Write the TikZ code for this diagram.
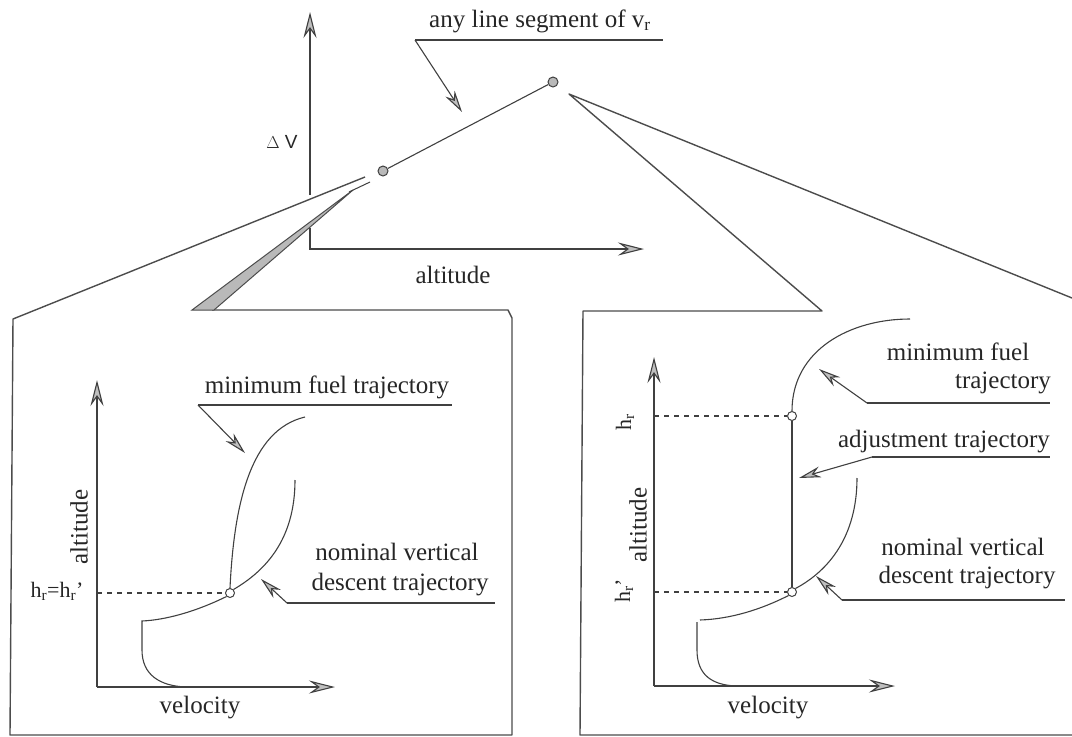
\documentclass[tikz,border=0pt]{standalone}
\usepackage{fontspec}
\setmainfont{Liberation Serif}
\newfontfamily\sansf{Liberation Sans}
\usetikzlibrary{arrows.meta}
\begin{document}
\begin{tikzpicture}[x=1pt,y=-1pt,
  line width=1.1pt, color=black!75,
  lbl/.style={font=\fontsize{25}{28}\selectfont, inner sep=0pt, anchor=base, text=black!85},
  sublbl/.style={font=\fontsize{22}{24}\selectfont, inner sep=0pt, text=black!85},
  axisarr/.style={-{Stealth[length=26pt,width=13pt,inset=9pt,fill=gray!50]}},
  callarr/.style={-{Stealth[length=22pt,width=11pt,inset=7pt,fill=gray!50]}},
  panelln/.style={line width=1.4pt, draw=black!70, line join=round},
  dashln/.style={dash pattern=on 5pt off 5pt, line width=1.3pt},
  bigdot/.style={circle, draw=black!75, fill=gray!55, minimum size=10pt, inner sep=0pt, line width=1pt},
  smalldot/.style={circle, draw=black!75, fill=white, minimum size=9pt, inner sep=0pt, line width=1pt}
]
\useasboundingbox (0,0) rectangle (1072,737);

% ---------- top chart ----------
\coordinate (tO) at (310,249);
\coordinate (tVtop) at (310,12);
\coordinate (tVgap1) at (310,195);
\coordinate (tVgap2) at (310,228);
\coordinate (tHend) at (644,249);
\draw[axisarr] (tVgap1) -- (tVtop);
\draw[axisarr] (tVgap2) -- (tO) -- (tHend);
\node[font=\sansf\fontsize{19}{21}\selectfont, inner sep=0pt, text=black!85] (dv) at (282,142) {$\Delta$ V};
\node[lbl] (talt) at (453,283) {altitude};

\node[bigdot] (d1) at (383,171) {};
\node[bigdot] (d2) at (553,82) {};
\draw (d1) -- (d2);

\node[lbl] (seg) at (540,27) {any line segment of v\textsubscript{r}};
\coordinate (segL) at (415,40);
\coordinate (segR) at (663,40);
\coordinate (segTip) at (462,112);
\draw (segL) -- (segR);
\draw[callarr] (segL) -- (segTip);

% ---------- left panel ----------
\coordinate (lp1) at (13,319);
\coordinate (lpApex) at (365,177);
\draw[panelln] (lpApex) -- (lp1) -- (10,735) -- (512,735) -- (512,318) -- (508,310) -- (212,310);
\filldraw[fill=gray!55, draw=black!70, line width=1pt] (192,310) -- (214,310) -- (353,190) -- cycle;
\draw[line width=1pt] (349,192) -- (370,182);

\coordinate (lO) at (97,687);
\draw[axisarr] (lO) -- (97,380);
\draw[axisarr] (lO) -- (335,687);
\node[lbl, anchor=center, rotate=90] (lalt) at (79,527) {altitude};
\node[lbl] (lvel) at (200,713) {velocity};
\node[sublbl, anchor=base] (lhr) at (57,597) {h\textsubscript{r}=h\textsubscript{r}'};

\node[smalldot] (lP) at (230,593) {};
\draw[dashln] (97,593) -- (lP);
% nominal vertical descent trajectory
\draw (295,480) .. controls (295,540) and (265,571) .. (lP.north east);
\draw (lP.south west) .. controls (195,612) and (165,620) .. (142,621) -- (142,650) .. controls (142,675) and (160,686) .. (186,687);
% minimum fuel trajectory
\draw (lP.north) .. controls (234,505) and (250,430) .. (305,417);

\node[lbl] (lmf) at (327,393) {minimum fuel trajectory};
\coordinate (lmfL) at (198,405);
\coordinate (lmfR) at (452,405);
\coordinate (lmfTip) at (245,453);
\draw (lmfL) -- (lmfR);
\draw[callarr] (lmfL) -- (lmfTip);

\node[lbl] (lnv1) at (397,560) {nominal vertical};
\node[lbl] (lnv2) at (400,590) {descent trajectory};
\coordinate (lnvL) at (287,603);
\coordinate (lnvR) at (495,603);
\coordinate (lnvTip) at (261,579);
\draw (lnvL) -- (lnvR);
\draw[callarr] (lnvL) -- (lnvTip);

% ---------- right panel ----------
\coordinate (rpApex) at (569,94);
\draw[panelln] (1072,298) -- (rpApex) -- (822,311) -- (583,311) -- (580,735) -- (1072,735);

\coordinate (rO) at (654,686);
\draw[axisarr] (rO) -- (654,357);
\draw[axisarr] (rO) -- (895,686);
\node[lbl, anchor=center, rotate=90] (ralt) at (638,525) {altitude};
\node[lbl] (rvel) at (768,713) {velocity};
\node[sublbl, anchor=center, rotate=90] (rhr) at (625,422) {h\textsubscript{r}};
\node[sublbl, anchor=center, rotate=90] (rhr2) at (624,591) {h\textsubscript{r}'};

\node[smalldot] (rA) at (792,416) {};
\node[smalldot] (rB) at (792,592) {};
\draw[dashln] (654,416) -- (rA);
\draw[dashln] (654,592) -- (rB);
\draw (rA) -- (rB);
% minimum fuel
\draw (rA.north) .. controls (792,350) and (850,319) .. (910,319);
% nominal
\draw (857,478) .. controls (857,535) and (830,570) .. (rB.north east);
\draw (rB.south west) .. controls (760,610) and (730,619) .. (700,620);
\draw (697,622) -- (697,650) .. controls (697,675) and (712,685) .. (736,686);

\node[lbl] (rmf1) at (958,360) {minimum fuel};
\node[lbl] (rmf2) at (1003,388) {trajectory};
\coordinate (rmfL) at (867,403);
\coordinate (rmfR) at (1050,403);
\coordinate (rmfTip) at (819,369);
\draw (rmfL) -- (rmfR);
\draw[callarr] (rmfL) -- (rmfTip);

\node[lbl] (radj) at (944,447) {adjustment trajectory};
\coordinate (radjL) at (872,457);
\coordinate (radjR) at (1050,457);
\coordinate (radjTip) at (799,478);
\draw (radjL) -- (radjR);
\draw[callarr] (radjL) -- (radjTip);

\node[lbl] (rnv1) at (963,555) {nominal vertical};
\node[lbl] (rnv2) at (967,583) {descent trajectory};
\coordinate (rnvL) at (842,600);
\coordinate (rnvR) at (1065,600);
\coordinate (rnvTip) at (816,576);
\draw (rnvL) -- (rnvR);
\draw[callarr] (rnvL) -- (rnvTip);
\end{tikzpicture}
\end{document}
